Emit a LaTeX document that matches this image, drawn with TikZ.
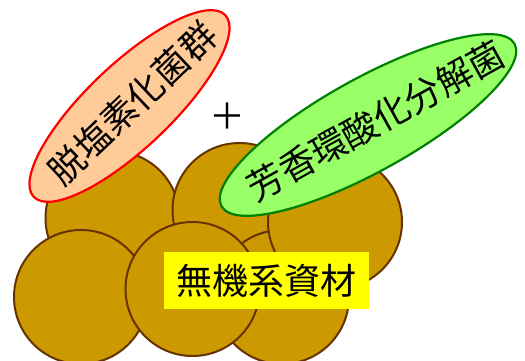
\documentclass[tikz,border=0pt]{standalone}
\usepackage{fontspec}
\setmainfont{Noto Sans CJK JP}
\usepackage{tikz}
\usepackage{xcolor}
\usetikzlibrary{shapes.geometric}
\definecolor{beadfill}{HTML}{CC9900}
\definecolor{beadline}{HTML}{663300}
\definecolor{dechlor}{HTML}{FFCC99}
\definecolor{dechlorline}{HTML}{FF0000}
\definecolor{arom}{HTML}{99FF66}
\definecolor{aromline}{HTML}{008000}
\definecolor{tag}{HTML}{FFFF00}
\newcommand{\bigjp}{\fontsize{36}{40}\selectfont}
\newcommand{\zerowide}[1]{\makebox[0pt]{#1}}
\tikzset{
  bead/.style={circle, draw=beadline, fill=beadfill, line width=2pt,
               minimum size=134pt, inner sep=0pt},
  microbe/.style={ellipse, line width=2.2pt, inner sep=0pt, font=\bigjp},
  tagbox/.style={fill=tag, minimum width=205pt, minimum height=57pt,
                 inner sep=0pt, font=\bigjp}
}
\begin{document}
\begin{tikzpicture}[x=1pt,y=1pt]
        \useasboundingbox (0,0) rectangle (525,361);
        % beads, back to front
        \node[bead] (b1) at (112.5,143) {};
        \node[bead] (b2) at (239.5,151) {};
        \node[bead] (b6) at (282,64) {};
        \node[bead] (b3) at (335,139) {};
        \node[bead] (b4) at (81,64) {};
        \node[bead] (b5) at (192.5,72) {};

        % material label
        \node[tagbox] (mat) at (266.5,80.5) {無機系資材};

        % microbes
        \node[microbe,draw=dechlorline,fill=dechlor,minimum width=264pt,minimum height=84pt,rotate=43.5] (dcb) at (129.5,255) {\zerowide{\hspace*{8pt}脱塩素化菌群}};
        \node[microbe,draw=aromline,fill=arom,minimum width=335pt,minimum height=93pt,rotate=29] (arb) at (368,236) {\zerowide{\hspace*{18pt}芳香環酸化分解菌}};
        \node[font=\bigjp,inner sep=0pt] (plus) at (227.3,245) {＋};
      \end{tikzpicture}
\end{document}
